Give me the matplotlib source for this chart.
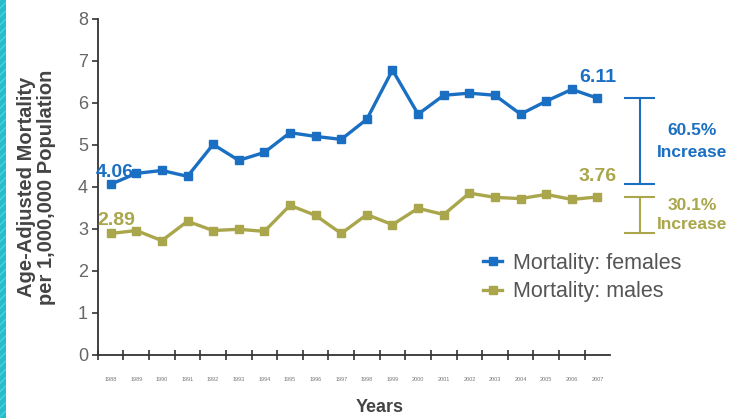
import numpy as np
import matplotlib.pyplot as plt
from matplotlib.patches import Rectangle

plt.rcParams['font.family'] = ['Liberation Sans', 'DejaVu Sans']

# mortality per 1,000,000 population, 1988-2007
years = [str(y) for y in range(1988, 2008)]
females = [4.06, 4.32, 4.39, 4.25, 5.01, 4.63, 4.82, 5.29, 5.20, 5.13,
           5.61, 6.78, 5.73, 6.18, 6.23, 6.18, 5.73, 6.04, 6.32, 6.11]
males = [2.89, 2.96, 2.72, 3.18, 2.96, 2.99, 2.94, 3.56, 3.32, 2.89,
         3.34, 3.10, 3.49, 3.34, 3.85, 3.75, 3.72, 3.82, 3.70, 3.76]
pct_labels = ['60.5%\nIncrease', '30.1%\nIncrease']

blue = '#1b6fc2'
olive = '#a9a64c'
grey = '#555555'

fig = plt.figure(figsize=(7.3, 4.18), dpi=100)
fig.patch.set_facecolor('white')

# teal strip down the left edge
fig.patches.append(Rectangle((0, 0), 6 / 730, 1, transform=fig.transFigure,
                             facecolor='#27bccb', edgecolor='#4fd0dc',
                             hatch='////', linewidth=0))

ax = fig.add_axes([0.134, 0.151, 0.702, 0.804])
x = np.arange(len(years))

ax.plot(x, females, color=blue, lw=2.4, marker='s', ms=6,
        label='Mortality: females')
ax.plot(x, males, color=olive, lw=2.4, marker='s', ms=6,
        label='Mortality: males')

ax.set_xlim(-0.5, len(years) - 0.5)
ax.set_ylim(0, 8)
ax.spines['top'].set_visible(False)
ax.spines['right'].set_visible(False)
for s in ('left', 'bottom'):
    ax.spines[s].set_color('#333333')
    ax.spines[s].set_linewidth(1.3)

ax.set_yticks(range(0, 9))
ax.tick_params(axis='y', direction='out', length=4, width=1.2,
               colors='#333333', labelcolor='#666666', labelsize=13, pad=3)

# ticks sit between years, labels under each point
ax.set_xticks(x - 0.5)
ax.set_xticklabels([])
ax.tick_params(axis='x', which='major', direction='inout', length=7,
               width=1.2, colors='#333333')
ax.set_xticks(x, minor=True)
ax.set_xticklabels(years, minor=True)
ax.tick_params(axis='x', which='minor', length=0, labelsize=4,
               labelcolor='#777777', pad=16)

ax.set_ylabel('Age-Adjusted Mortality\nper 1,000,000 Population',
              fontsize=14.5, fontweight='bold', color='#444444',
              linespacing=1.05, va='center')
ax.yaxis.set_label_coords(-0.12, 0.5)
ax.set_xlabel('Years', fontsize=13, fontweight='bold', color='#444444',
              va='center')
ax.xaxis.set_label_coords(0.55, -0.158)

# start and end values
ax.text(-0.6, females[0] + 0.28, f'{females[0]:.2f}', color=blue,
        fontsize=14, fontweight='bold', ha='left', va='center')
ax.text(-0.5, males[0] + 0.3, f'{males[0]:.2f}', color=olive,
        fontsize=14, fontweight='bold', ha='left', va='center')
ax.text(19, females[-1] + 0.5, f'{females[-1]:.2f}', color=blue,
        fontsize=14, fontweight='bold', ha='center', va='center')
ax.text(19, males[-1] + 0.48, f'{males[-1]:.2f}', color=olive,
        fontsize=14, fontweight='bold', ha='center', va='center')

# brackets showing the change from first to last year
bx = 20.65
cw = 0.57
for series, col, lab, sp in ((females, blue, pct_labels[0], 1.6),
                             (males, olive, pct_labels[1], 1.35)):
    lo, hi = series[0], series[-1]
    ax.plot([bx, bx], [lo, hi], color=col, lw=1.5, clip_on=False)
    ax.plot([bx - cw, bx + cw], [lo, lo], color=col, lw=1.5, clip_on=False)
    ax.plot([bx - cw, bx + cw], [hi, hi], color=col, lw=1.5, clip_on=False)
    ax.text(bx + 2.05, (lo + hi) / 2, lab, color=col, fontsize=12.5,
            fontweight='bold', ha='center', va='center', linespacing=sp,
            clip_on=False)

leg = ax.legend(loc='center left', bbox_to_anchor=(0.735, 0.23), frameon=False,
                fontsize=15.5, handlelength=0.9, handletextpad=0.5,
                labelspacing=0.35, borderaxespad=0)
for t in leg.get_texts():
    t.set_color(grey)

fig.savefig('out.png', dpi=100)
